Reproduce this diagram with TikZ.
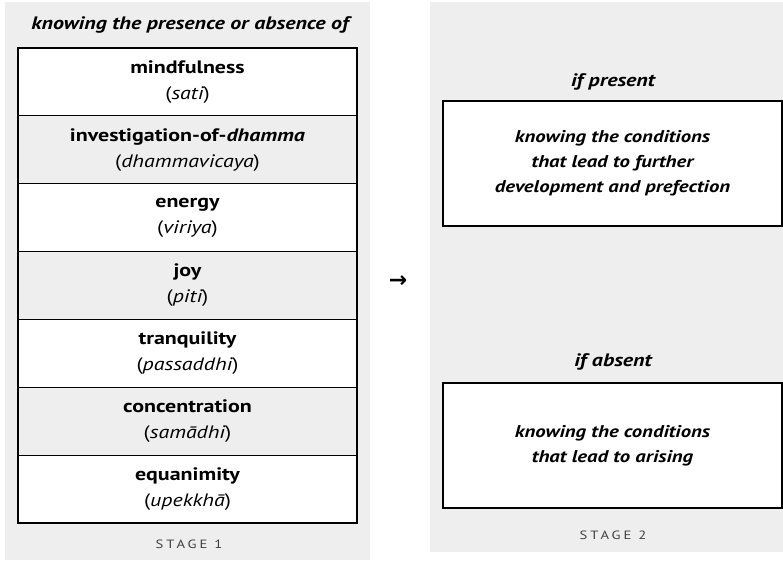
\documentclass[tikz,border=0pt]{standalone}
\usepackage{fontspec}
\setmainfont{PT Sans}[FakeStretch=1.22]
\newfontfamily\symfont{DejaVu Sans}
\definecolor{panelgray}{HTML}{EEEEEE}
\begin{document}
\begin{tikzpicture}[x=1pt,y=-1pt,
  cell/.style={draw=black, line width=1.2pt, minimum width=339pt, minimum height=67.86pt,
    inner sep=0pt, align=center, font=\fontsize{18}{26}\selectfont},
  whitecell/.style={cell, fill=white},
  graycell/.style={cell, fill=panelgray},
  head/.style={inner sep=0pt, font=\fontsize{18}{22}\selectfont\bfseries\itshape},
  stage/.style={inner sep=0pt, text=black!75, font=\fontsize{12}{14}\selectfont\addfontfeature{LetterSpace=25}},
  result/.style={draw=black, line width=1.2pt, fill=white, minimum width=339pt, minimum height=125pt,
    inner sep=0pt, align=center, font=\fontsize{17}{25}\selectfont\bfseries\itshape}
]
\useasboundingbox (0,0) rectangle (783,561);
\fill[white] (0,0) rectangle (783,561);
% panels
\fill[panelgray] (5,2) rectangle (370,560);
\fill[panelgray] (430,2) rectangle (783,552);

\node[head] (title) at (190,25) {knowing the presence or absence of};

\node[whitecell] (c1) at (187.5,81.93) {{\bfseries mindfulness}\\({\itshape sati})};
\node[graycell]  (c2) at (187.5,149.79) {{\bfseries investigation-of-\itshape dhamma}\\({\itshape dhammavicaya})};
\node[whitecell] (c3) at (187.5,217.65) {{\bfseries energy}\\({\itshape viriya})};
\node[graycell]  (c4) at (187.5,285.51) {{\bfseries joy}\\({\itshape piti})};
\node[whitecell] (c5) at (187.5,353.37) {{\bfseries tranquility}\\({\itshape passaddhi})};
\node[graycell]  (c6) at (187.5,421.23) {{\bfseries concentration}\\({\itshape samādhi})};
\node[whitecell] (c7) at (187.5,489.09) {{\bfseries equanimity}\\({\itshape upekkhā})};

\node[stage] (s1) at (189,544) {STAGE 1};

\node[inner sep=0pt, font=\fontsize{22}{22}\selectfont\symfont\bfseries] (arr) at (398,282) {→};

\node[head] (ifp) at (613,82) {if present};
\node[result] (r1) at (612.5,163.5) {knowing the conditions\\that lead to further\\development and prefection};
\node[head] (ifa) at (613,362) {if absent};
\node[result] (r2) at (612.5,445.5) {knowing the conditions\\that lead to arising};

\node[stage] (s2) at (613,535) {STAGE 2};
\end{tikzpicture}
\end{document}
